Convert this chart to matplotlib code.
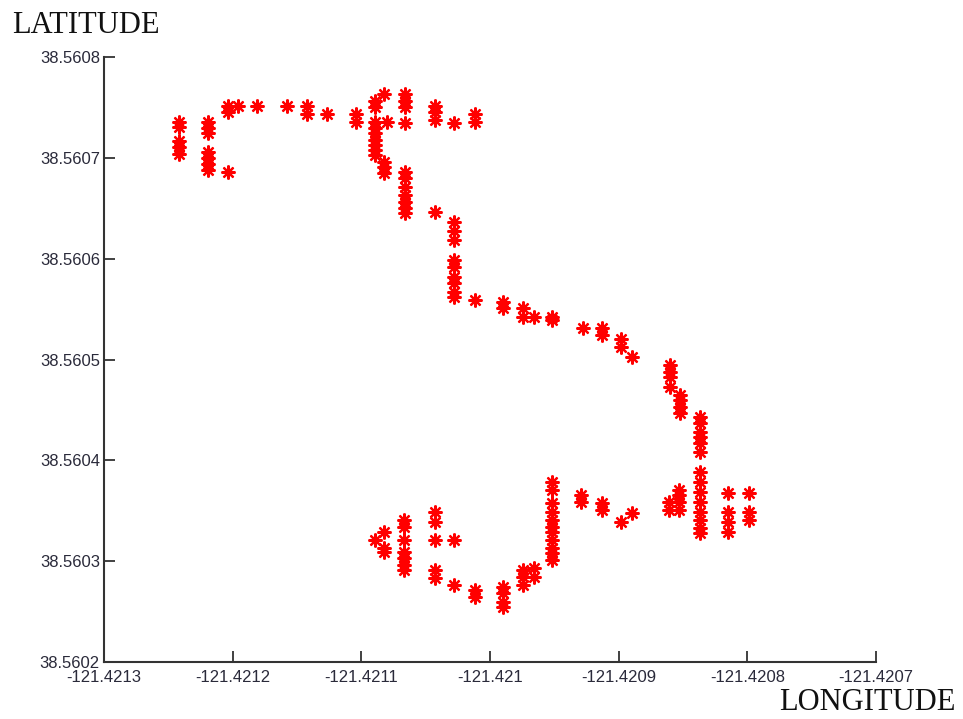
import matplotlib
matplotlib.use('Agg')
import matplotlib.pyplot as plt

# GPS track, northern part (lon, lat)
north_lon = [
    -121.421242, -121.421242, -121.421242, -121.421242, -121.421242,
    -121.421219, -121.421219, -121.421219, -121.421219, -121.421219, -121.421219, -121.421219,
    -121.421204, -121.421204, -121.421204,
    -121.421196, -121.421181, -121.421158, -121.421142, -121.421142, -121.421127,
    -121.421104, -121.421104,
    -121.421089, -121.421089, -121.421089, -121.421089, -121.421089, -121.421089, -121.421089,
    -121.421089, -121.421089,
    -121.421082, -121.421080,
    -121.421082, -121.421082, -121.421082,
    -121.421066, -121.421066, -121.421066, -121.421066,
    -121.421066, -121.421066, -121.421066, -121.421066, -121.421066, -121.421066, -121.421066,
    -121.421043, -121.421043, -121.421043,
    -121.421028,
    -121.421012, -121.421012,
    -121.421043,
    -121.421028, -121.421028, -121.421028, -121.421028, -121.421028, -121.421028, -121.421028,
    -121.421028, -121.421028,
    -121.421012,
    -121.420990, -121.420990,
    -121.420974, -121.420974, -121.420966,
    -121.420952, -121.420952,
    -121.420928,
    -121.420913, -121.420913,
    -121.420898, -121.420898,
    -121.420890,
    -121.420860, -121.420860, -121.420860, -121.420860,
    -121.420852, -121.420852, -121.420852, -121.420852,
    -121.420837, -121.420837, -121.420837, -121.420837, -121.420837, -121.420837,
]
north_lat = [
    38.560736, 38.560731, 38.560717, 38.560711, 38.560704,
    38.560736, 38.560730, 38.560725, 38.560706, 38.560700, 38.560694, 38.560688,
    38.560751, 38.560745, 38.560686,
    38.560751, 38.560751, 38.560751, 38.560751, 38.560743, 38.560743,
    38.560743, 38.560736,
    38.560756, 38.560750, 38.560736, 38.560730, 38.560725, 38.560718, 38.560713,
    38.560708, 38.560703,
    38.560763, 38.560736,
    38.560696, 38.560691, 38.560685,
    38.560763, 38.560756, 38.560750, 38.560735,
    38.560686, 38.560680, 38.560671, 38.560663, 38.560656, 38.560650, 38.560645,
    38.560751, 38.560745, 38.560738,
    38.560735,
    38.560743, 38.560736,
    38.560646,
    38.560636, 38.560627, 38.560619, 38.560599, 38.560592, 38.560582, 38.560576,
    38.560567, 38.560562,
    38.560559,
    38.560557, 38.560551,
    38.560551, 38.560542, 38.560542,
    38.560542, 38.560539,
    38.560531,
    38.560531, 38.560524,
    38.560520, 38.560512,
    38.560502,
    38.560495, 38.560488, 38.560483, 38.560473,
    38.560465, 38.560460, 38.560453, 38.560447,
    38.560443, 38.560437, 38.560428, 38.560423, 38.560417, 38.560408,
]

# GPS track, southern part (lon, lat)
south_lon = [
    -121.421089,
    -121.421082, -121.421082, -121.421082,
    -121.421067, -121.421067, -121.421067, -121.421067, -121.421067, -121.421067, -121.421067,
    -121.421043, -121.421043, -121.421043, -121.421043, -121.421043,
    -121.421028, -121.421028,
    -121.421012, -121.421012,
    -121.420990, -121.420990, -121.420990, -121.420990,
    -121.420974, -121.420974, -121.420974,
    -121.420966, -121.420966,
    -121.420952, -121.420952, -121.420952, -121.420952, -121.420952, -121.420952, -121.420952,
    -121.420952, -121.420952, -121.420952, -121.420952,
    -121.420929, -121.420929,
    -121.420913, -121.420913,
    -121.420898, -121.420890,
    -121.420861, -121.420861,
    -121.420853, -121.420853, -121.420853, -121.420853,
    -121.420837, -121.420837, -121.420837, -121.420837, -121.420837, -121.420837, -121.420837,
    -121.420837,
    -121.420815, -121.420815, -121.420815, -121.420815,
    -121.420799, -121.420799, -121.420799,
]
south_lat = [
    38.560321,
    38.560329, 38.560313, 38.560309,
    38.560341, 38.560334, 38.560321, 38.560309, 38.560303, 38.560296, 38.560291,
    38.560349, 38.560339, 38.560321, 38.560291, 38.560283,
    38.560321, 38.560276,
    38.560271, 38.560264,
    38.560274, 38.560268, 38.560260, 38.560255,
    38.560291, 38.560284, 38.560276,
    38.560293, 38.560284,
    38.560379, 38.560371, 38.560358, 38.560349, 38.560341, 38.560334, 38.560329,
    38.560321, 38.560313, 38.560308, 38.560301,
    38.560366, 38.560359,
    38.560358, 38.560351,
    38.560339, 38.560348,
    38.560359, 38.560351,
    38.560371, 38.560366, 38.560359, 38.560351,
    38.560388, 38.560379, 38.560369, 38.560359, 38.560349, 38.560341, 38.560333,
    38.560328,
    38.560368, 38.560349, 38.560339, 38.560329,
    38.560368, 38.560349, 38.560341,
]

x_ticks = [-121.4213, -121.4212, -121.4211, -121.4210, -121.4209, -121.4208, -121.4207]
x_labels = ['-121.4213', '-121.4212', '-121.4211', '-121.421', '-121.4209', '-121.4208', '-121.4207']
y_ticks = [38.5602, 38.5603, 38.5604, 38.5605, 38.5606, 38.5607, 38.5608]
y_labels = ['38.5602', '38.5603', '38.5604', '38.5605', '38.5606', '38.5607', '38.5608']

fig = plt.figure(figsize=(9.63, 7.19), dpi=100)
ax = fig.add_axes([104 / 963, 1 - 662 / 719, (876 - 104) / 963, (662 - 57) / 719])

star = (8, 2, 0)  # matlab-like '*' marker
for lon, lat in [(north_lon, north_lat), (south_lon, south_lat)]:
    ax.plot(lon, lat, linestyle='none', marker=star, color='red',
            markersize=10, markeredgewidth=1.6)

ax.set_xlim(-121.4213, -121.4207)
ax.set_ylim(38.5602, 38.5608)
ax.set_xticks(x_ticks)
ax.set_xticklabels(x_labels)
ax.set_yticks(y_ticks)
ax.set_yticklabels(y_labels)

for side in ['top', 'right']:
    ax.spines[side].set_visible(False)
for side in ['left', 'bottom']:
    ax.spines[side].set_linewidth(1.5)
    ax.spines[side].set_color('#333333')

ax.tick_params(direction='in', length=8, width=1.3, color='#333333',
               labelsize=12, labelcolor='#2a2a3a')
ax.tick_params(axis='x', pad=6)
ax.tick_params(axis='y', pad=3)
for lbl in ax.get_xticklabels() + ax.get_yticklabels():
    lbl.set_fontfamily('Liberation Sans')

fig.text(12 / 963, 1 - 33 / 719, 'LATITUDE', fontsize=22,
         fontfamily='Liberation Serif', color='#111111')
fig.text(955 / 963, 1 - 710 / 719, 'LONGITUDE', fontsize=22,
         fontfamily='Liberation Serif', color='#111111', ha='right')

fig.savefig('out.png', dpi=100)
